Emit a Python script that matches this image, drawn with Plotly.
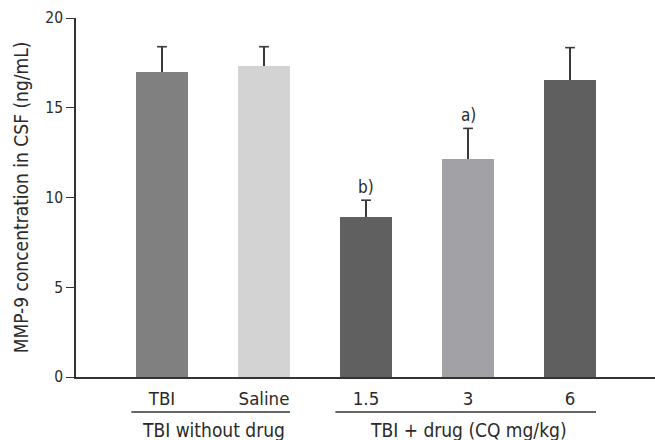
import plotly.graph_objects as go

categories = ["TBI", "Saline", "1.5", "3", "6"]
means = [17.0, 17.3, 8.9, 12.15, 16.55]
errors = [1.4, 1.1, 0.95, 1.7, 1.8]
colors = ["#808080", "#d3d3d3", "#606060", "#a2a1a6", "#5f5f5f"]
sig_labels = ["", "", "b)", "a)", ""]
groups = [("TBI without drug", 0, 1), ("TBI + drug (CQ mg/kg)", 2, 4)]
y_ticks = [0, 5, 10, 15, 20]

FONT = "DejaVu Sans Condensed, sans-serif"
xs = list(range(len(categories)))
tops = [m + e for m, e in zip(means, errors)]

fig = go.Figure()
fig.add_trace(go.Bar(
    x=xs, y=means, width=0.51,
    marker=dict(color=colors, line=dict(width=0)),
    error_y=dict(type="data", array=errors, symmetric=False, arrayminus=[0]*5,
                 color="#3a3a3a", thickness=1.5, width=0),
))
fig.add_trace(go.Scatter(
    x=xs, y=tops, mode="markers", hoverinfo="skip",
    marker=dict(symbol="line-ew", size=7, line=dict(color="#3a3a3a", width=1.6)),
))

for i, lab in enumerate(sig_labels):
    if lab:
        fig.add_annotation(x=xs[i], y=tops[i], text=lab, showarrow=False,
                           yanchor="bottom", yshift=1, font=dict(size=17, color="#2a2a2a"))

for name, a, b in groups:
    fig.add_shape(type="line", xref="x", yref="paper", x0=a - 0.3, x1=b + 0.255,
                  y0=-0.0975, y1=-0.0975, line=dict(color="#333", width=1.6))
    fig.add_annotation(x=(a + b) / 2, xref="x", yref="paper", y=-0.148, text=name,
                       showarrow=False, yanchor="middle", font=dict(size=19, color="#2a2a2a"))

fig.update_layout(
    width=655, height=440,
    margin=dict(l=76, r=0, t=18, b=63),
    plot_bgcolor="white", paper_bgcolor="white",
    showlegend=False,
    font=dict(family=FONT, size=15, color="#2a2a2a"),
    bargap=0,
)
fig.update_xaxes(range=[-0.843, 4.833], tickvals=xs, ticktext=categories,
                 ticks="outside", ticklen=4, tickcolor="rgba(0,0,0,0)",
                 showline=True, linecolor="#333", linewidth=1.6, showgrid=False,
                 zeroline=False, tickfont=dict(size=18.5))
fig.update_yaxes(range=[0, 20], tickvals=y_ticks, ticks="outside", ticklen=8,
                 tickcolor="#333", tickwidth=1.3, showline=True, linecolor="#333",
                 linewidth=1.6, showgrid=False, zeroline=False,
                 title=dict(text="MMP-9 concentration in CSF (ng/mL)", standoff=12,
                            font=dict(size=19)),
                 tickfont=dict(size=15.5))

fig.write_html("out.html")
